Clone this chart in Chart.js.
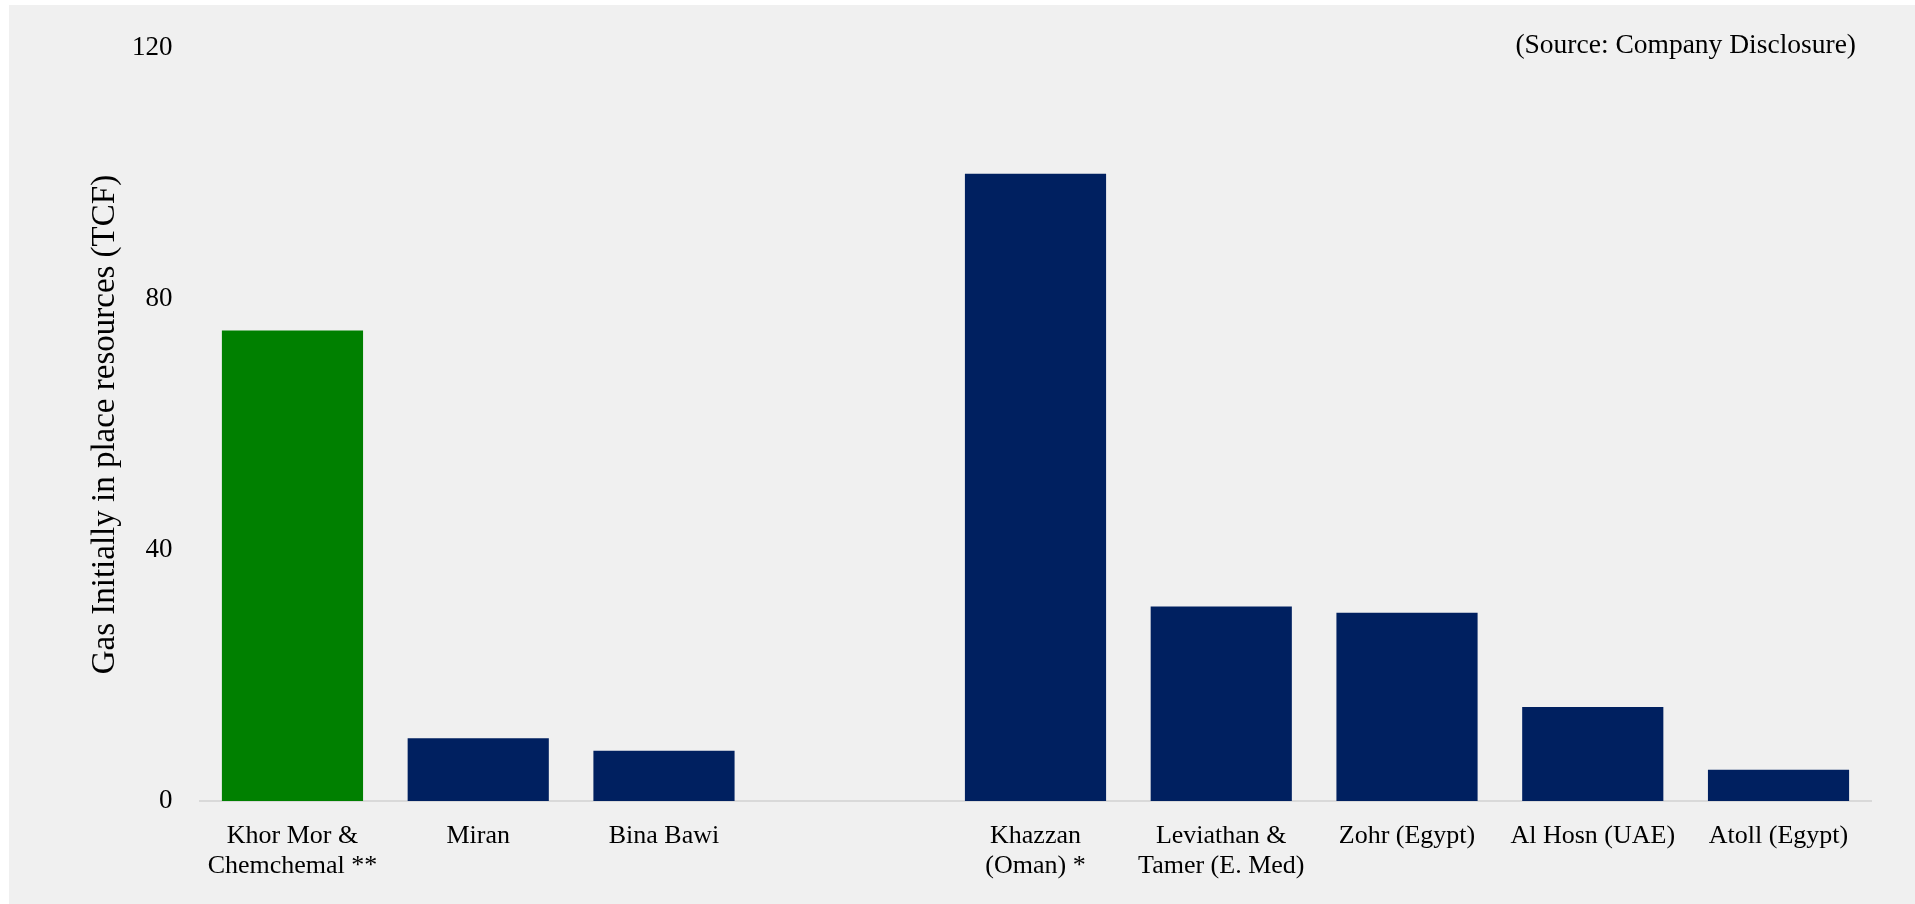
<!DOCTYPE html>
<html>
<head>
<meta charset="utf-8">
<script src="https://cdn.jsdelivr.net/npm/chart.js@4"></script>
<style>
  body { margin: 0; background: #ffffff; }
  #panel { position: absolute; left: 9px; top: 5px; width: 1906px; height: 899px; background: #f0f0f0; }
  #source { position: absolute; right: 59px; top: 30px; font: 27.5px "Liberation Serif", serif; line-height: 27px; color: #000; }
</style>
</head>
<body>
<div id="panel">
  <canvas id="giipChart" width="1906" height="899"></canvas>
</div>
<div id="source">(Source: Company Disclosure)</div>
<script>
// Gas initially in place, TCF (blank slot separates Kurdistan fields from regional peers)
const categories = [
  ['Khor Mor &', 'Chemchemal **'],
  'Miran',
  'Bina Bawi',
  '',
  ['Khazzan', '(Oman) *'],
  ['Leviathan &', 'Tamer (E. Med)'],
  'Zohr (Egypt)',
  'Al Hosn (UAE)',
  'Atoll (Egypt)'
];
const giipTcf = [75, 10, 8, null, 100, 31, 30, 15, 5];
const yTicks = [0, 40, 80, 120];

const GREEN = '#008000';
const NAVY = '#002060';

const ctx = document.getElementById('giipChart').getContext('2d');

new Chart(ctx, {
  type: 'bar',
  data: {
    labels: categories,
    datasets: [{
      data: giipTcf,
      backgroundColor: c => c.dataIndex === 0 ? GREEN : NAVY,
      borderWidth: 0,
      categoryPercentage: 1,
      barPercentage: 0.76
    }]
  },
  options: {
    responsive: false,
    animation: false,
    layout: {
      padding: { top: 40, right: 43.6, left: 0, bottom: 0 }
    },
    plugins: {
      legend: { display: false },
      tooltip: { enabled: false }
    },
    scales: {
      x: {
        grid: { display: false, drawTicks: false },
        border: { display: true, color: '#d9d9d9', width: 2 },
        ticks: {
          color: '#000',
          font: { family: '"Liberation Serif", serif', size: 26, lineHeight: 1.154 },
          padding: 20,
          maxRotation: 0,
          minRotation: 0,
          autoSkip: false
        },
        afterFit: axis => { axis.height = 103; }
      },
      y: {
        min: 0,
        max: 120,
        grid: { display: false, drawTicks: false },
        border: { display: false },
        afterBuildTicks: axis => { axis.ticks = yTicks.map(v => ({ value: v })); },
        ticks: {
          color: '#000',
          font: { family: '"Liberation Serif", serif', size: 27 },
          padding: 27
        },
        title: {
          display: true,
          text: 'Gas Initially in place resources (TCF)',
          color: '#000',
          font: { family: '"Liberation Serif", serif', size: 33 },
          padding: { top: 77, bottom: 0 }
        },
        afterFit: axis => { axis.width = 190.6; }
      }
    }
  }
});
</script>
</body>
</html>
